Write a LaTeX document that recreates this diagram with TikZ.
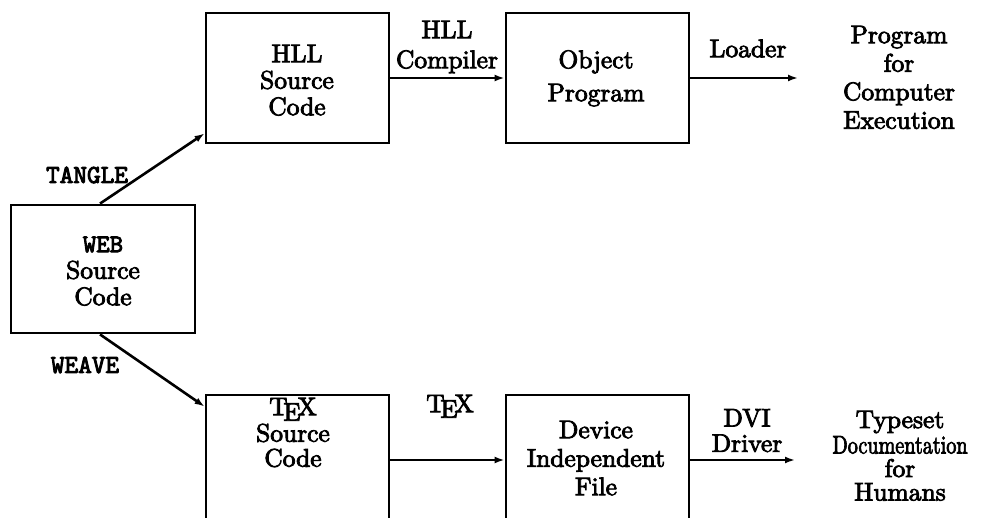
\documentclass[tikz,border=0pt]{standalone}
\usepackage{fontspec}
\setmainfont{lmroman10-regular.otf}[FakeBold=3.2]
\newfontfamily\labtt{lmmono10-regular.otf}[FakeBold=3.6]
\usetikzlibrary{arrows.meta}

\tikzset{
  box/.style={draw, line width=2.8pt, minimum width=183pt, minimum height=130pt, inner sep=0pt},
  flow/.style={line width=2.6pt, -{Latex[length=10pt,width=7pt]}},
  lbl/.style={align=center, inner sep=0pt, anchor=north},
  sk/.style={font={\fontsize{25.5}{#1}\selectfont}},
  ttl/.style={inner sep=0pt, anchor=base, font={\fontsize{26}{28}\selectfont\labtt}}
}

\begin{document}
\begin{tikzpicture}[x=1pt, y=-1pt]
  \path[use as bounding box, clip] (0,0) rectangle (989,518);

  % boxes
  \node[box, minimum width=184pt, minimum height=128pt] (web) at (103,269) {};
  \node[box] (hll) at (297.5,78) {};
  \node[box] (obj) at (597.5,78) {};
  \node[box] (tsrc) at (297.5,460) {};
  \node[box] (dvi) at (597.5,460) {};

  % box texts (anchor north = first baseline minus strut height 0.7*skip)
  \node[lbl, sk=26.5] (webt) at (103,252-18.55) {\strut{\labtt WEB}\\Source\\Code};
  \node[lbl, sk=26.5] (hllt) at (297,62-18.55) {\strut HLL\\Source\\Code};
  \node[lbl, sk=33] (objt) at (596,68-23.1) {\strut Object\\Program};
  \node[lbl, sk=25] (tsrct) at (293,415-17.5) {\strut\TeX\\Source\\Code};
  \node[lbl, sk=28.5] (dvit) at (596,438-19.95) {\strut Device\\Independent\\File};

  % free ends of the output arrows
  \coordinate (loadend) at (798,78);
  \coordinate (drvend) at (795,460);

  % connectors
  \draw[flow] ([xshift=-3pt]web.north) -- ([yshift=11pt]hll.south west);
  \draw[flow] ([xshift=-3pt]web.south) -- ([yshift=-13pt]tsrc.north west);
  \draw[flow] (hll.east) -- (obj.west);
  \draw[flow] (obj.east) -- (loadend);
  \draw[flow] (tsrc.east) -- (dvi.west);
  \draw[flow] (dvi.east) -- (drvend);

  % connector labels
  \node[ttl] (tangle) at (87,183) {TANGLE};
  \node[ttl] (weave) at (85,373) {WEAVE};
  \node[lbl, sk=30] (hllc) at (447,38-21) {\strut HLL\\Compiler};
  \node[lbl, sk=28] (loader) at (748,57-19.6) {\strut Loader};
  \node[lbl, sk=28] (texl) at (450,412-19.6) {\strut\TeX};
  \node[lbl, sk=23] (dvil) at (747,425-16.1) {\strut DVI\\Driver};

  % results
  \node[lbl, sk=28.5] (prog) at (899,43-19.95) {\strut Program\\for\\Computer\\Execution};
  \node[lbl, sk=23.5] (docs) at (900,427-16.45) {\strut Typeset\\\scalebox{0.79}[1]{Documentation}\\for\\Humans};
\end{tikzpicture}
\end{document}
